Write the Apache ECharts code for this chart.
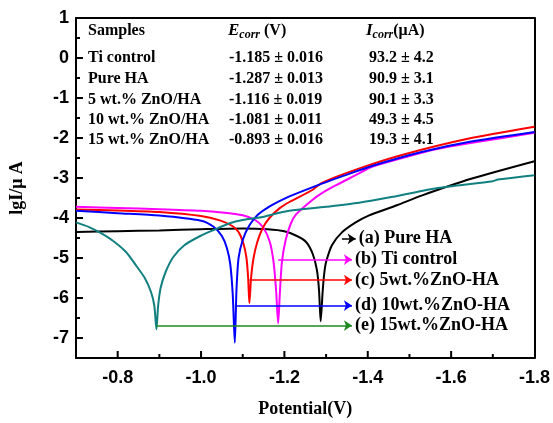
<!DOCTYPE html>
<html>
	<head>
		<meta charset="utf-8" />
		<title>Tafel</title>
		<style type="text/css">
			html,body{margin:0;padding:0;background:#fff;}
			#main{width:553px;height:423px;}
		</style>
		<script src="https://cdn.jsdelivr.net/npm/echarts@6/dist/echarts.min.js" type="text/javascript" charset="utf-8"></script>
	</head>
	<body>
		<div id="main"></div>
		<script type="text/javascript">
			// 曲线数据 [电位(V), lgI]
			var pureHA = [[-0.70,-4.35],[-0.80,-4.33],[-0.90,-4.31],[-1.00,-4.28],[-1.10,-4.26],[-1.16,-4.28],[-1.20,-4.33],[-1.23,-4.45],[-1.252,-4.6],[-1.268,-4.9],[-1.278,-5.3],[-1.283,-5.8],[-1.287,-6.58],[-1.292,-5.8],[-1.296,-5.35],[-1.30,-5.1],[-1.314,-4.68],[-1.338,-4.36],[-1.371,-4.11],[-1.402,-3.94],[-1.47,-3.68],[-1.529,-3.44],[-1.648,-3.02],[-1.80,-2.58]];
			var tiControl = [[-0.70,-3.72],[-0.80,-3.75],[-0.90,-3.78],[-1.00,-3.82],[-1.05,-3.86],[-1.10,-3.93],[-1.13,-4.05],[-1.15,-4.25],[-1.165,-4.6],[-1.174,-5.1],[-1.180,-5.8],[-1.185,-6.63],[-1.189,-5.9],[-1.194,-5.1],[-1.203,-4.55],[-1.215,-4.15],[-1.228,-3.91],[-1.267,-3.55],[-1.29,-3.38],[-1.324,-3.18],[-1.371,-2.93],[-1.41,-2.72],[-1.50,-2.45],[-1.56,-2.29],[-1.65,-2.12],[-1.80,-1.87]];
			var zno5 = [[-0.70,-3.79],[-0.80,-3.81],[-0.90,-3.85],[-1.00,-3.95],[-1.045,-4.06],[-1.075,-4.2],[-1.09,-4.35],[-1.102,-4.65],[-1.109,-5.0],[-1.113,-5.5],[-1.116,-6.13],[-1.12,-5.5],[-1.126,-5.0],[-1.135,-4.6],[-1.148,-4.25],[-1.164,-4.0],[-1.188,-3.76],[-1.212,-3.6],[-1.267,-3.3],[-1.29,-3.12],[-1.38,-2.76],[-1.48,-2.43],[-1.64,-2.02],[-1.80,-1.72]];
			var zno10 = [[-0.70,-3.82],[-0.80,-3.88],[-0.90,-3.94],[-1.00,-4.07],[-1.03,-4.22],[-1.05,-4.45],[-1.062,-4.75],[-1.07,-5.15],[-1.076,-5.9],[-1.081,-7.12],[-1.085,-5.8],[-1.09,-5.0],[-1.10,-4.55],[-1.115,-4.2],[-1.136,-3.92],[-1.16,-3.74],[-1.188,-3.58],[-1.212,-3.46],[-1.29,-3.14],[-1.343,-2.94],[-1.41,-2.7],[-1.529,-2.35],[-1.648,-2.09],[-1.80,-1.85]];
			var zno15 = [[-0.70,-4.11],[-0.73,-4.22],[-0.76,-4.38],[-0.79,-4.58],[-0.82,-4.85],[-0.845,-5.2],[-0.865,-5.5],[-0.880,-5.85],[-0.888,-6.2],[-0.893,-6.78],[-0.897,-6.2],[-0.903,-5.75],[-0.915,-5.35],[-0.933,-4.98],[-0.96,-4.68],[-0.998,-4.45],[-1.03,-4.3],[-1.069,-4.13],[-1.10,-4.05],[-1.14,-3.99],[-1.188,-3.87],[-1.212,-3.82],[-1.30,-3.72],[-1.379,-3.62],[-1.45,-3.49],[-1.562,-3.26],[-1.70,-3.08],[-1.712,-3.04],[-1.80,-2.93]];

			// 图例标签及箭头 (起点电位, 终点电位, lgI)
			var curveNames = ['(a) Pure HA','(b) Ti control','(c) 5wt.%ZnO-HA','(d) 10wt.%ZnO-HA','(e) 15wt.%ZnO-HA'];
			var arrowStart = [-1.338,-1.185,-1.116,-1.081,-0.893];
			var arrowEnd = [-1.371,-1.362,-1.362,-1.362,-1.362];
			var arrowY = [-4.52,-5.04,-5.55,-6.19,-6.69];

			// 表格
			var samples = ['Ti control','Pure HA','5 wt.% ZnO/HA','10 wt.% ZnO/HA','15 wt.% ZnO/HA'];
			var ecorr = ['-1.185 \u00b1 0.016','-1.287 \u00b1 0.013','-1.116 \u00b1 0.019','-1.081 \u00b1 0.011','-0.893 \u00b1 0.016'];
			var icorr = ['93.2 \u00b1 4.2','90.9 \u00b1 3.1','90.1 \u00b1 3.3','49.3 \u00b1 4.5','19.3 \u00b1 4.1'];

			// 刻度值
			var xTicks = [-0.8,-1.0,-1.2,-1.4,-1.6];
			var xMinor = [-0.9,-1.1,-1.3,-1.5,-1.7];
			var yTicks = [-7,-6,-5,-4,-3,-2,-1,0];
			var yMinor = [-6.5,-5.5,-4.5,-3.5,-2.5,-1.5,-0.5,0.5];

			var serif = '"Liberation Serif", "Times New Roman", serif';
			var sans = '"Liberation Sans", Arial, sans-serif';
			var colors = ['#000000','#ff00ff','#ff0000','#0000ff','#128080'];
			var arrowColors = ['#000000','#ff00ff','#ff0000','#0000ff','#1e8a1e'];
			var curves = [pureHA, tiControl, zno5, zno10, zno15];
			var X_MIN = -1.8, X_MAX = -0.7, Y_MIN = -7.5, Y_MAX = 1;

			var myChart = echarts.init(document.getElementById('main'));

			var series = curves.map(function(d, i){
				return {
					type: 'line',
					name: curveNames[i],
					data: d,
					showSymbol: false,
					smooth: 0.25,
					lineStyle: {color: colors[i], width: 2},
					itemStyle: {color: colors[i]},
					z: 3,
					markLine: {
						silent: true,
						symbol: ['none','arrow'],
						symbolSize: [8,8],
						lineStyle: {color: arrowColors[i], width: 1.5, type: 'solid'},
						label: {
							show: true,
							position: 'end',
							distance: 3,
							formatter: curveNames[i],
							color: '#000',
							fontFamily: serif,
							fontWeight: 'bold',
							fontSize: 18
						},
						data: [[{coord:[arrowStart[i], arrowY[i]]},{coord:[arrowEnd[i], arrowY[i]]}]]
					}
				};
			});

			// 向内的刻度线，用坐标系换算位置
			function tickSeries(values, isX, len){
				return {
					type: 'custom',
					silent: true,
					z: 5,
					clip: false,
					data: values.map(function(v){ return isX ? [v, Y_MIN] : [X_MAX, v]; }),
					renderItem: function(params, api){
						var p = api.coord([api.value(0), api.value(1)]);
						return {
							type: 'line',
							shape: isX ? {x1: p[0], y1: p[1], x2: p[0], y2: p[1] - len}
							           : {x1: p[0], y1: p[1], x2: p[0] + len, y2: p[1]},
							style: {stroke: '#000', lineWidth: 2}
						};
					}
				};
			}
			series.push(tickSeries(xTicks, true, 7));
			series.push(tickSeries(xMinor, true, 4));
			series.push(tickSeries(yTicks, false, 7));
			series.push(tickSeries(yMinor, false, 4));

			// 表格文字
			var graphics = [];
			var rowY = [60,81,102,122,142];
			var tstyle = function(txt, x, y){
				return {type:'text', left:x, top:y-10, style:{text:txt, font:'bold 16px ' + serif, fill:'#000'}};
			};
			graphics.push(tstyle('Samples', 88, 33));
			graphics.push({type:'text', left:228, top:22, style:{
				text:'{e|E}{s|corr}{n| (V)}',
				rich:{
					e:{fontFamily:serif, fontStyle:'italic', fontWeight:'bold', fontSize:17, fill:'#000'},
					s:{fontFamily:serif, fontStyle:'italic', fontWeight:'bold', fontSize:12, fill:'#000', padding:[9,0,0,0]},
					n:{fontFamily:serif, fontWeight:'bold', fontSize:16, fill:'#000'}
				}
			}});
			graphics.push({type:'text', left:366, top:22, style:{
				text:'{e|I}{s|corr}{n|(\u03bcA)}',
				rich:{
					e:{fontFamily:serif, fontStyle:'italic', fontWeight:'bold', fontSize:17, fill:'#000'},
					s:{fontFamily:serif, fontStyle:'italic', fontWeight:'bold', fontSize:12, fill:'#000', padding:[9,0,0,0]},
					n:{fontFamily:serif, fontWeight:'bold', fontSize:16, fill:'#000'}
				}
			}});
			for (var i = 0; i < samples.length; i++) {
				graphics.push(tstyle(samples[i], 88, rowY[i]));
				graphics.push(tstyle(ecorr[i], 229, rowY[i]));
				graphics.push(tstyle(icorr[i], 369, rowY[i]));
			}

			var option = {
				animation: false,
				grid: {left: 75, right: 16, top: 18, bottom: 61, show: false},
				xAxis: [{
					type: 'value', min: X_MIN, max: X_MAX, inverse: true, interval: 0.2,
					name: 'Potential(V)', nameLocation: 'middle', nameGap: 42,
					nameTextStyle: {fontFamily: serif, fontWeight: 'bold', fontSize: 18, color: '#000'},
					axisLine: {show: true, onZero: false, lineStyle: {color: '#000', width: 2}},
					axisTick: {show: false},
					axisLabel: {showMaxLabel: false, formatter: function(v){ return v.toFixed(1); }, margin: 11,
						fontFamily: sans, fontWeight: 'bold', fontSize: 18, color: '#000'},
					splitLine: {show: false}
				},{
					// 上边框
					type: 'value', min: X_MIN, max: X_MAX, inverse: true, position: 'top',
					axisLine: {show: true, onZero: false, lineStyle: {color: '#000', width: 2}},
					axisTick: {show: false}, axisLabel: {show: false}, splitLine: {show: false}
				}],
				yAxis: [{
					type: 'value', min: Y_MIN, max: Y_MAX, splitNumber: 8,
					name: 'lgI/\u03bc A', nameLocation: 'middle', nameGap: 50,
					nameTextStyle: {fontFamily: serif, fontWeight: 'bold', fontSize: 18, color: '#000'},
					axisLine: {show: true, onZero: false, lineStyle: {color: '#000', width: 2}},
					axisTick: {show: false},
					axisLabel: {showMinLabel: false, margin: 7, fontFamily: sans, fontWeight: 'bold', fontSize: 18, color: '#000'},
					splitLine: {show: false}
				},{
					// 右边框
					type: 'value', min: Y_MIN, max: Y_MAX, position: 'right',
					axisLine: {show: true, onZero: false, lineStyle: {color: '#000', width: 2}},
					axisTick: {show: false}, axisLabel: {show: false}, splitLine: {show: false}
				}],
				graphic: graphics,
				series: series
			};
			myChart.setOption(option);
		</script>
	</body>
</html>
